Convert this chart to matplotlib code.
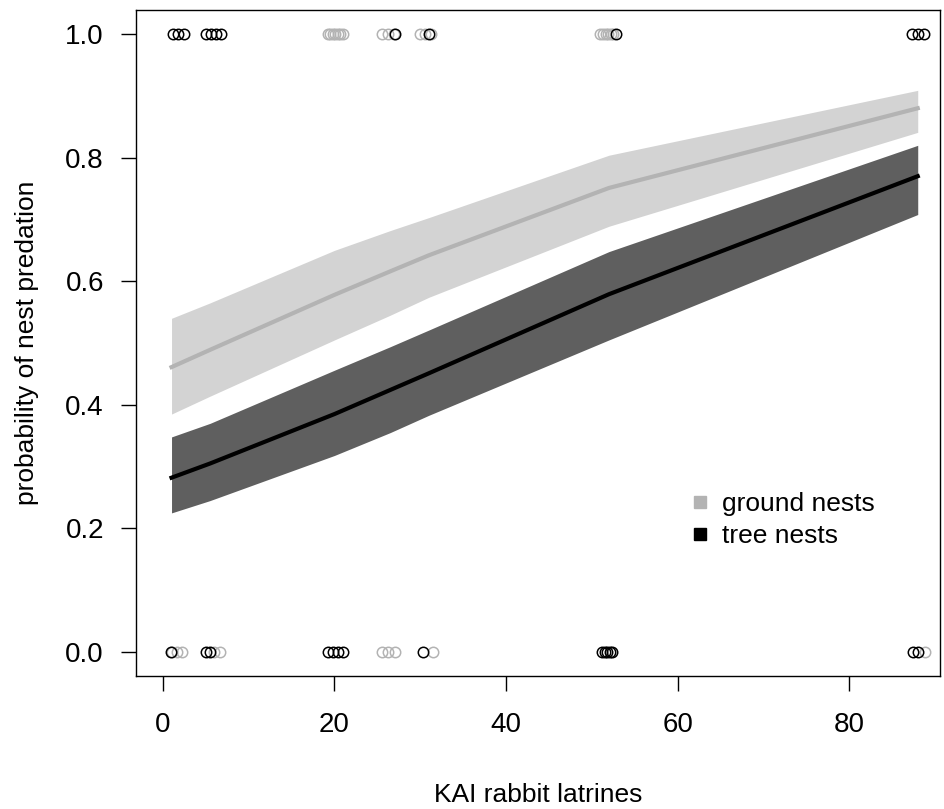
import matplotlib
matplotlib.use("Agg")
import matplotlib.pyplot as plt

plt.rcParams["font.family"] = ["Liberation Sans", "DejaVu Sans"]

# fitted curves and confidence bands, evaluated at the observed latrine counts
x_fit = [1, 5.5, 20, 26.5, 31, 52, 88]
ground_fit = [0.461, 0.489, 0.578, 0.616, 0.642, 0.751, 0.880]
ground_hi = [0.540, 0.565, 0.650, 0.682, 0.703, 0.804, 0.909]
ground_lo = [0.385, 0.414, 0.505, 0.545, 0.574, 0.689, 0.841]
tree_fit = [0.282, 0.305, 0.385, 0.424, 0.451, 0.579, 0.770]
tree_hi = [0.348, 0.370, 0.456, 0.494, 0.521, 0.648, 0.820]
tree_lo = [0.225, 0.245, 0.318, 0.355, 0.383, 0.505, 0.708]

# observed nests (jittered x), predated = 1, not predated = 0
ground_x1 = [19.2, 19.5, 19.8, 20.1, 20.4, 20.7, 21.0,
             25.5, 26.2, 26.9, 30.0, 30.6, 31.3,
             51.0, 51.3, 51.6, 51.9, 52.2, 52.5]
tree_x1 = [1.2, 1.8, 2.4, 5.0, 5.6, 6.2, 6.8, 27.0, 31.0, 52.8,
           87.3, 88.0, 88.7]
ground_x0 = [1.0, 1.6, 2.2, 6.0, 6.6, 25.5, 26.2, 27.0, 31.5, 88.8]
tree_x0 = [0.9, 5.0, 5.5, 19.2, 19.8, 20.4, 21.0, 30.3,
           51.2, 51.5, 51.8, 52.1, 52.4, 87.4, 88.0]

GREY = "#b3b3b3"
LIGHT = "#d3d3d3"
DARK = "#5f5f5f"

fig = plt.figure(figsize=(9.44, 8.09), dpi=100)
ax = fig.add_axes([0.144, 0.1644, 0.8518, 0.8232])

ax.fill_between(x_fit, ground_lo, ground_hi, color=LIGHT, lw=0)
ax.fill_between(x_fit, tree_lo, tree_hi, color=DARK, lw=0)
ax.plot(x_fit, ground_fit, color=GREY, lw=3)
ax.plot(x_fit, tree_fit, color="black", lw=3)

ms = 7.5
ax.plot(ground_x1, [1] * len(ground_x1), "o", mfc="none", mec=GREY, ms=ms, mew=1.1)
ax.plot(ground_x0, [0] * len(ground_x0), "o", mfc="none", mec=GREY, ms=ms, mew=1.1)
ax.plot(tree_x1, [1] * len(tree_x1), "o", mfc="none", mec="black", ms=ms, mew=1.1)
ax.plot(tree_x0, [0] * len(tree_x0), "o", mfc="none", mec="black", ms=ms, mew=1.1)

# legend built by hand, R style
ax.plot([], [], "s", color=GREY, ms=9, label="ground nests")
ax.plot([], [], "s", color="black", ms=9, label="tree nests")
ax.legend(loc="center left", bbox_to_anchor=(0.659, 0.234), frameon=False,
          fontsize=19, handlelength=0.8, handletextpad=0.44, labelspacing=0.3,
          borderpad=0.4)

ax.set_xlim(-3.15, 90.6)
ax.set_ylim(-0.039, 1.039)
ax.set_xticks([0, 20, 40, 60, 80])
ax.set_yticks([0.0, 0.2, 0.4, 0.6, 0.8, 1.0])
ax.set_yticklabels(["0.0", "0.2", "0.4", "0.6", "0.8", "1.0"])
ax.tick_params(labelsize=20, length=11, width=1, pad=12)
ax.tick_params(axis="x", pad=15)
for s in ax.spines.values():
    s.set_linewidth(1)

ax.set_xlabel("KAI rabbit latrines", fontsize=19)
ax.set_ylabel("probability of nest predation", fontsize=19)
ax.xaxis.set_label_coords(0.5, -0.161)
ax.yaxis.set_label_coords(-0.1205, 0.5)

fig.savefig("out.png", dpi=100)
